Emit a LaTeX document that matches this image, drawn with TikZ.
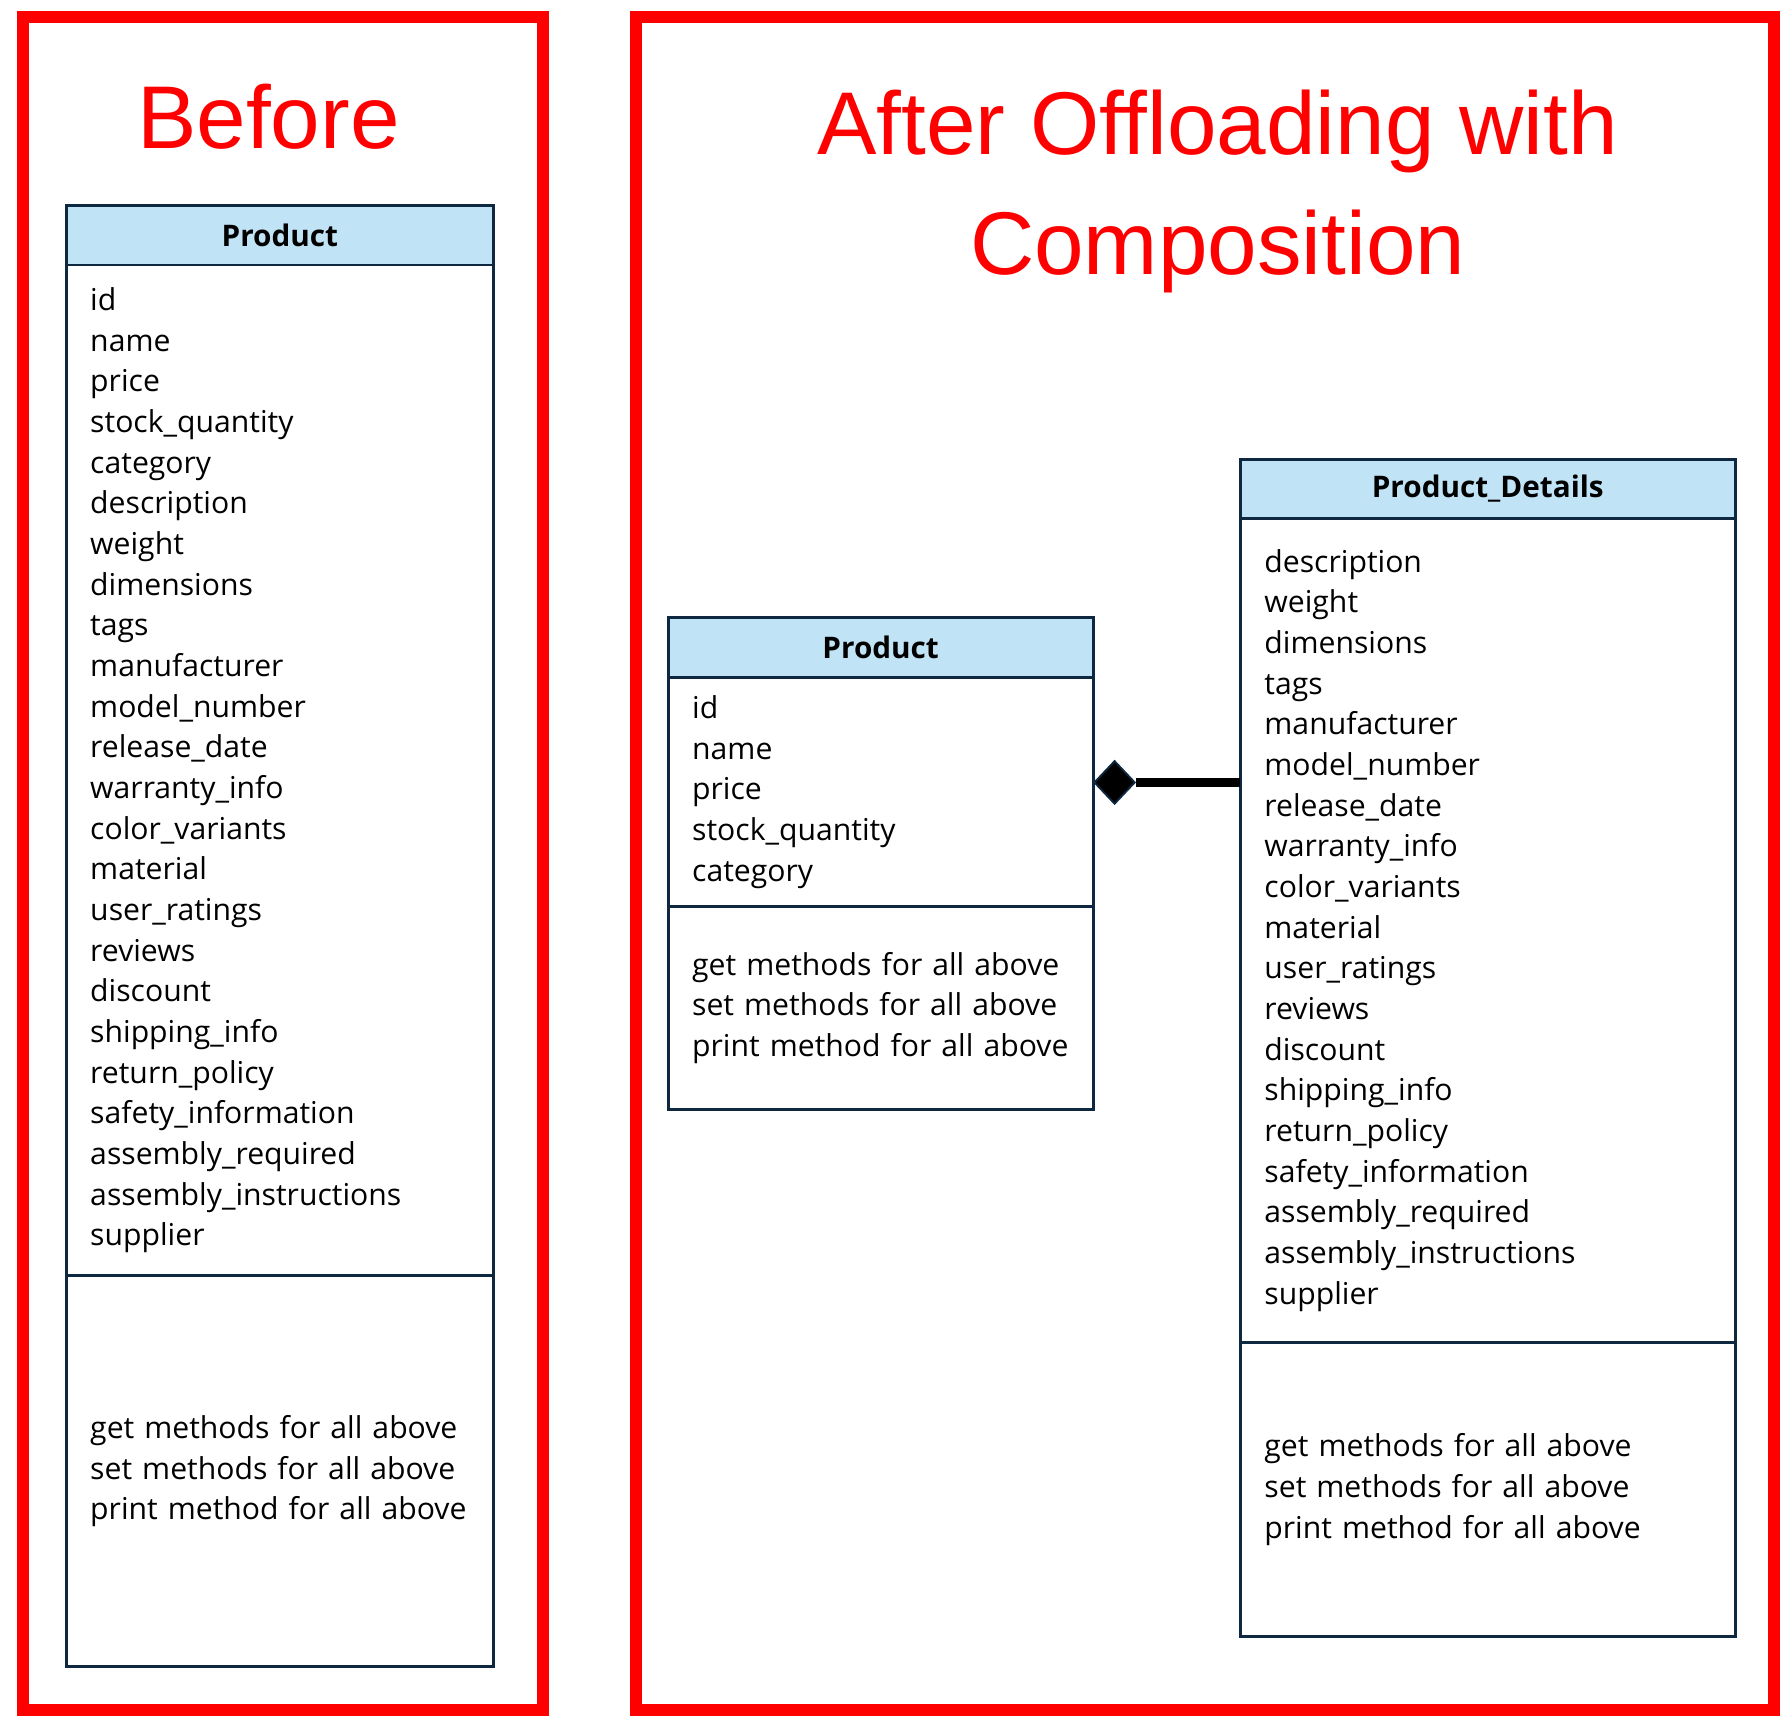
\documentclass[tikz,border=0pt]{standalone}
\usepackage{fontspec}
\setmainfont{Open Sans}
\newfontfamily\titlefont{Liberation Sans}
\usepackage{xcolor}
\usepackage{tikz}
\usetikzlibrary{positioning,shapes.geometric}
\definecolor{framered}{HTML}{FF0000}
\definecolor{hdrblue}{HTML}{C0E4F5}
\definecolor{umlnavy}{HTML}{0E2841}
\newcommand{\coreattrs}{id\\name\\price\\stock\_quantity\\category}
\newcommand{\detailattrs}{description\\weight\\dimensions\\tags\\manufacturer\\model\_number\\release\_date\\warranty\_info\\color\_variants\\material\\user\_ratings\\reviews\\discount\\shipping\_info\\return\_policy\\safety\_information\\assembly\_required\\assembly\_instructions\\supplier}
\newcommand{\methodlist}{get methods for all above\\set methods for all above\\print method for all above}

\begin{document}
\begin{tikzpicture}[x=0.5pt, y=-0.5pt, node distance=0pt,
  frame/.style={draw=framered, line width=5.3pt},
  title/.style={text=framered, inner sep=0pt, align=center, font=\titlefont\fontsize{39}{52.5}\selectfont},
  part/.style={draw=umlnavy, line width=1.3pt, outer sep=0pt, inner xsep=10.5pt, inner ysep=0pt, align=left, font=\fontsize{13.2}{17.8}\selectfont},
  hdr/.style={part, fill=hdrblue, align=center, minimum height=26pt, font=\bfseries\fontsize{13}{15}\selectfont},
  comp/.style={diamond, fill=black, draw=umlnavy, line width=0.8pt, inner sep=0pt, minimum width=18pt, minimum height=19pt},
  link/.style={line width=4pt, black}]
  \useasboundingbox (0,0) rectangle (1568,1514);
  % frames and titles
  \draw[frame] (20,14.5) rectangle (475,1497);
  \draw[frame] (556.5,14.5) rectangle (1553,1497);
  \node[title, anchor=base] (tbefore) at (235,130) {Before};
  \node[title, anchor=base] (tafter) at (1066,240) {After Offloading with\\Composition};
  % before: one big class
  \node[hdr, text width=166pt, anchor=north] (bhead) at (245,180) {Product};
  \node[part, text width=166pt, minimum height=442.5pt, below=of bhead] (battr) {\coreattrs\\\detailattrs};
  \node[part, text width=166pt, minimum height=171pt, below=of battr] (bmeth) {\methodlist};
  % after: product
  \node[hdr, text width=165pt, anchor=north] (phead) at (771,541) {Product};
  \node[part, text width=165pt, minimum height=100.5pt, below=of phead] (pattr) {\coreattrs};
  \node[part, text width=165pt, minimum height=88.5pt, below=of pattr] (pmeth) {\methodlist};
  % after: product details
  \node[hdr, text width=195.5pt, anchor=north] (dhead) at (1302.5,402) {Product\_Details};
  \node[part, text width=195.5pt, minimum height=360.5pt, below=of dhead] (dattr) {\detailattrs};
  \node[part, text width=195.5pt, minimum height=129pt, below=of dattr] (dmeth) {\methodlist};
  % composition
  \node[comp, anchor=west] (dia) at (957,685) {};
  \draw[link] (dia.east) -- (dia.east -| dattr.west);
\end{tikzpicture}
\end{document}
